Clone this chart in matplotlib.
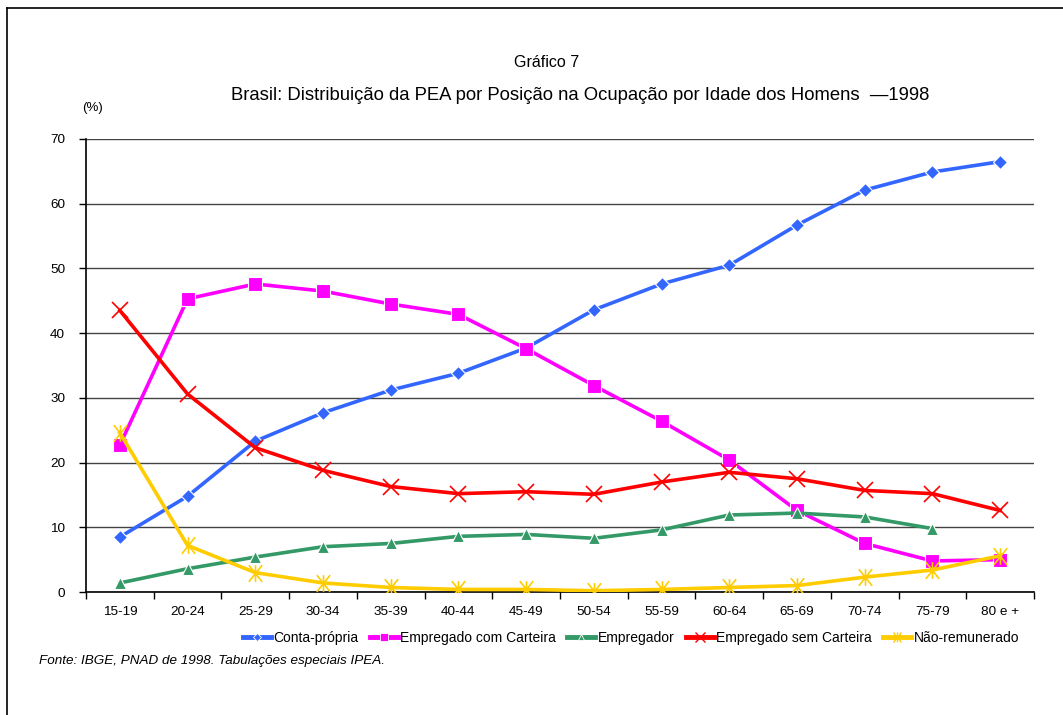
import numpy as np
import matplotlib
matplotlib.use("Agg")
import matplotlib.pyplot as plt
from matplotlib.path import Path
from matplotlib.lines import Line2D

plt.rcParams['font.family'] = ['Liberation Sans', 'DejaVu Sans']

faixas = ['15-19', '20-24', '25-29', '30-34', '35-39', '40-44', '45-49',
          '50-54', '55-59', '60-64', '65-69', '70-74', '75-79', '80 e +']

conta_propria = [8.5, 14.8, 23.3, 27.7, 31.2, 33.8, 37.7, 43.6, 47.6, 50.5, 56.7, 62.1, 64.9, 66.5]
com_carteira = [22.7, 45.3, 47.6, 46.5, 44.5, 42.9, 37.6, 31.9, 26.4, 20.4, 12.6, 7.5, 4.8, 5.0]
empregador = [1.4, 3.6, 5.4, 7.0, 7.5, 8.6, 8.9, 8.3, 9.6, 11.9, 12.2, 11.6, 9.8, np.nan]
sem_carteira = [43.5, 30.6, 22.3, 18.8, 16.3, 15.2, 15.5, 15.1, 17.0, 18.5, 17.5, 15.7, 15.2, 12.6]
nao_remunerado = [24.6, 7.2, 3.0, 1.4, 0.7, 0.4, 0.4, 0.2, 0.4, 0.7, 1.0, 2.3, 3.4, 5.6]

# x with a vertical bar, like the excel marker
star = Path([(-0.8, -1), (0.8, 1), (-0.8, 1), (0.8, -1), (0, -1), (0, 1)],
            [Path.MOVETO, Path.LINETO, Path.MOVETO, Path.LINETO, Path.MOVETO, Path.LINETO])

series = [
    ('Conta-própria', conta_propria, '#3366FF', 'D', 7, 'white'),
    ('Empregado com Carteira', com_carteira, '#FF00FF', 's', 10, 'white'),
    ('Empregador', empregador, '#339966', '^', 9, 'white'),
    ('Empregado sem Carteira', sem_carteira, '#FF0000', 'x', 11, None),
    ('Não-remunerado', nao_remunerado, '#FFCC00', star, 12, None),
]

fig = plt.figure(figsize=(10.63, 7.15), dpi=100)
ax = fig.add_axes([0.0809, 0.172, 0.8918, 0.6336])

x = np.arange(len(faixas))
handles = []
for nome, vals, cor, mk, ms, edge in series:
    if edge is None:
        ax.plot(x, vals, color=cor, lw=2.6, zorder=3)
        ax.plot(x, vals, ls='none', marker=mk, ms=ms, mec=cor, mfc='none', mew=1.2, zorder=4)
        handles.append(Line2D([], [], color=cor, lw=3.5, marker=mk, ms=ms * 0.6,
                              mec=cor, mfc='none', mew=1.0))
    else:
        ax.plot(x, vals, color=cor, lw=2.6, marker=mk, ms=ms, mfc=cor,
                mec=edge, mew=0.8, zorder=3)
        handles.append(Line2D([], [], color=cor, lw=3.5, marker=mk, ms=ms * 0.55,
                              mfc=cor, mec=edge, mew=0.6))

ax.set_xlim(-0.5, len(faixas) - 0.5)
ax.set_ylim(0, 70)
ax.set_yticks(range(0, 71, 10))
ax.set_xticks(x)
ax.set_xticklabels(faixas)
ax.set_xticks(np.arange(-0.5, len(faixas), 1), minor=True)
ax.tick_params(axis='x', which='major', length=0, pad=10, labelsize=9.7)
ax.tick_params(axis='x', which='minor', length=5, width=1, direction='out')
ax.tick_params(axis='y', length=5, width=1, direction='out', pad=10, labelsize=9.7)
for s in ['top', 'right']:
    ax.spines[s].set_visible(False)
for s in ['left', 'bottom']:
    ax.spines[s].set_linewidth(1.2)
ax.yaxis.grid(True, color='#444444', lw=1)
ax.set_axisbelow(True)

fig.text(0.514, 0.913, 'Gráfico 7', ha='center', va='center', fontsize=11.5)
fig.text(0.546, 0.867, 'Brasil: Distribuição da PEA por Posição na Ocupação por Idade dos Homens  \u20141998',
         ha='center', va='center', fontsize=13.3)
fig.text(0.087, 0.849, '(%)', ha='center', va='center', fontsize=9.5)
fig.text(0.037, 0.075, 'Fonte: IBGE, PNAD de 1998. Tabulações especiais IPEA.',
         ha='left', va='center', fontsize=9.7, style='italic')

fig.legend(handles, [s[0] for s in series], loc='center right', bbox_to_anchor=(0.968, 0.108),
           ncol=5, frameon=False, fontsize=10, handlelength=2.0, handletextpad=0.2,
           columnspacing=0.8, borderpad=0.2)

# border of the original figure box
fig.add_artist(Line2D([0.0066, 0.0066], [0, 0.989], color='black', lw=1.2, transform=fig.transFigure))
fig.add_artist(Line2D([0.0066, 1], [0.989, 0.989], color='black', lw=1.2, transform=fig.transFigure))

fig.savefig('out.png', dpi=100)
